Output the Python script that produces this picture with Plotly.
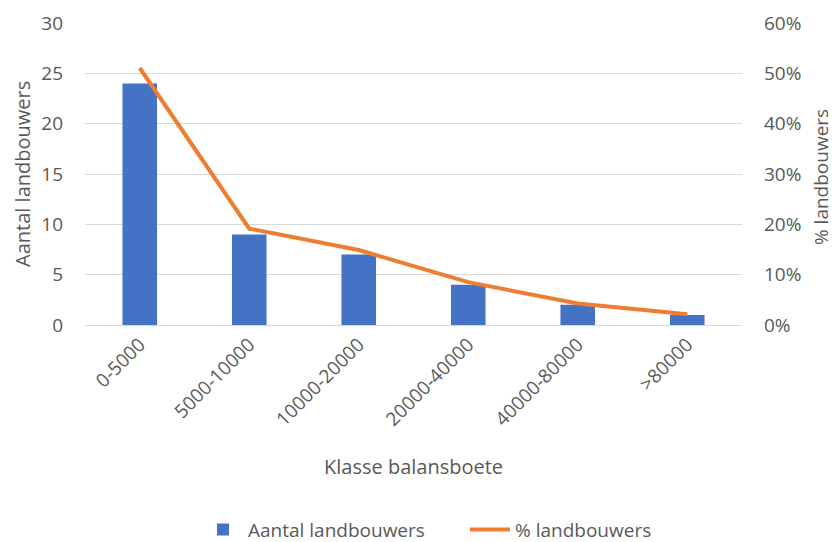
import plotly.graph_objects as go

categories = ["0-5000", "5000-10000", "10000-20000", "20000-40000", "40000-80000", ">80000"]
aantal = [24, 9, 7, 4, 2, 1]
pct = [0.5106, 0.1915, 0.1489, 0.0851, 0.0426, 0.0213]
left_ticks = [0, 5, 10, 15, 20, 25, 30]
right_ticks = [0, 0.1, 0.2, 0.3, 0.4, 0.5, 0.6]

FONT = "Open Sans"
GREY = "#595959"

fig = go.Figure()
fig.add_trace(go.Bar(x=categories, y=aantal, name="Aantal landbouwers",
                     marker=dict(color="#4472C4", line=dict(width=0))))
fig.add_trace(go.Scatter(x=categories, y=pct, name="% landbouwers", yaxis="y2",
                         mode="lines", line=dict(color="#ED7D31", width=4)))

fig.update_layout(
    width=835, height=542,
    margin=dict(l=85, r=93, t=23, b=217),
    paper_bgcolor="white", plot_bgcolor="white",
    font=dict(family=FONT, size=19, color=GREY),
    bargap=0.684,
    showlegend=True,
    legend=dict(orientation="h", x=0.172, xanchor="left", xref="paper",
                yref="container", y=0.058, yanchor="top",
                entrywidth=212, itemwidth=40,
                font=dict(size=19, color=GREY), traceorder="normal"),
    xaxis=dict(tickangle=-45, showgrid=False, showline=True, linecolor="#D9D9D9",
               ticks="", tickfont=dict(size=19), automargin=False),
    yaxis=dict(range=[0, 30], tickvals=left_ticks, showgrid=True, gridcolor="#D9D9D9",
               zeroline=False, ticks="", ticklabelstandoff=21, automargin=False),
    yaxis2=dict(range=[0, 0.6], tickvals=right_ticks, tickformat=".0%", overlaying="y",
                side="right", showgrid=False, zeroline=False, ticks="", ticklabelstandoff=21,
                automargin=False),
    annotations=[
        dict(text="Klasse balansboete", xref="paper", yref="paper", x=0.5, y=-0.47,
             xanchor="center", yanchor="middle", showarrow=False,
             font=dict(size=20, color=GREY)),
        dict(text="Aantal landbouwers", xref="paper", yref="paper", x=-0.096, y=0.5,
             xanchor="center", yanchor="middle", textangle=-90, showarrow=False,
             font=dict(size=20, color=GREY)),
        dict(text="% landbouwers", xref="paper", yref="paper", x=1.1203, y=0.49,
             xanchor="center", yanchor="middle", textangle=-90, showarrow=False,
             font=dict(size=19, color=GREY)),
    ],
)

fig.write_html("out.html", config={"displayModeBar": False},
               post_script="document.body.style.margin='0';")
